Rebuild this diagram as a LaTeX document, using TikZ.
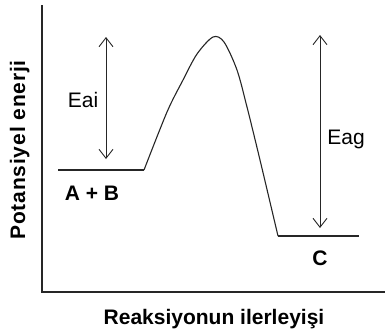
\documentclass[tikz,border=0pt]{standalone}
\usepackage{fontspec}
\setmainfont{Liberation Sans}
\newfontfamily\spacedbold[LetterSpace=4]{Liberation Sans Bold}
\usetikzlibrary{arrows.meta}
\tikzset{
  axisline/.style={line width=1.4pt, black!85},
  level/.style={line width=1.1pt, black!85},
  curveline/.style={line width=1.1pt, black!85},
  energyarrow/.style={line width=0.9pt, black!85, {Straight Barb[length=9pt,width=14pt]}-{Straight Barb[length=9pt,width=14pt]}},
  lbl/.style={font=\fontsize{21}{24}\selectfont, anchor=base, inner sep=0pt},
  blbl/.style={font=\fontsize{21}{24}\selectfont\bfseries, anchor=base, inner sep=0pt},
}
\begin{document}
\begin{tikzpicture}[x=1pt,y=-1pt]
\useasboundingbox (0,0) rectangle (385,333);
% axes
\coordinate (ytop) at (42,5);
\coordinate (origin) at (42,292);
\coordinate (xend) at (385,292);
\draw[axisline] (ytop) -- (origin) -- (xend);
% levels
\coordinate (ab1) at (58,170);
\coordinate (ab2) at (144,170);
\coordinate (c1) at (278,236);
\coordinate (c2) at (359,236);
\draw[level] (ab1) -- (ab2);
\draw[level] (c1) -- (c2);
% curve
\draw[curveline] plot[smooth, tension=0.5] coordinates {(144,170) (167,112) (183,80) (197,54) (213,37) (224,42) (237,70) (247,107) (260,160) (278,236)};
% arrows
\coordinate (eait) at (106,37);
\coordinate (eaib) at (106,159);
\coordinate (eagt) at (320,35);
\coordinate (eagb) at (320,228);
\draw[energyarrow] (eait) -- (eaib);
\draw[energyarrow] (eagt) -- (eagb);
% labels
\node[lbl] (eai) at (83,107) {Eai};
\node[lbl] (eag) at (346,144) {Eag};
\node[blbl] (ab) at (92,200) {A + B};
\node[blbl] (c) at (320,265) {C};
\node[blbl] (xl) at (214,324) {Reaksiyonun ilerleyişi};
\node[font=\fontsize{21}{24}\selectfont\spacedbold, anchor=base, inner sep=0pt, rotate=90] (yl) at (25,150) {Potansiyel enerji};
\end{tikzpicture}
\end{document}
